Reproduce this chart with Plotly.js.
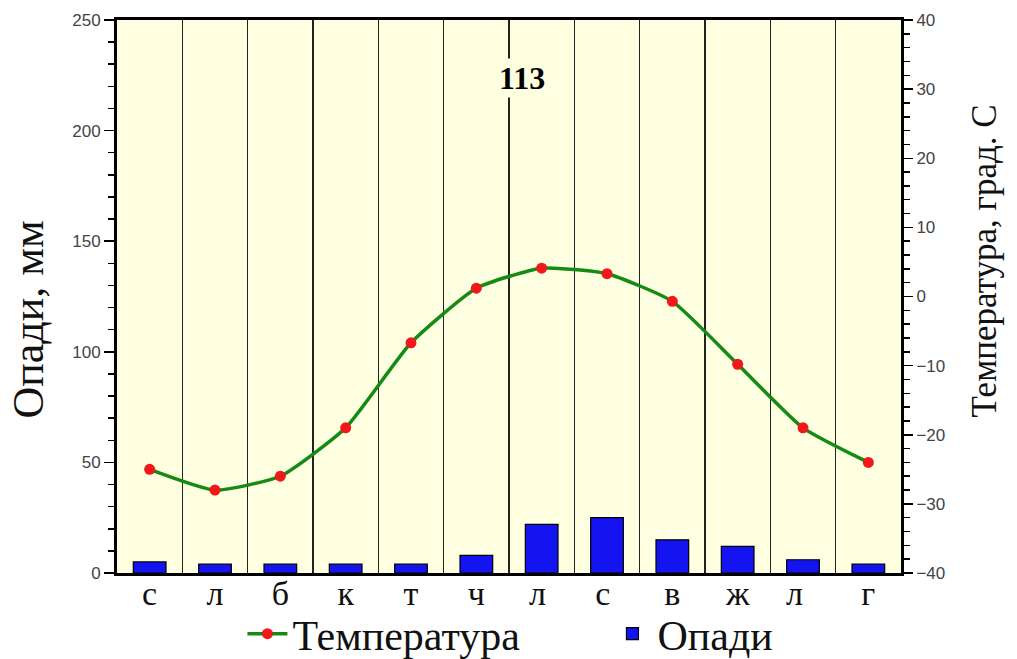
<!DOCTYPE html>
<html>
<head>
<meta charset="utf-8">
<script src="https://cdn.plot.ly/plotly-3.0.1.min.js"></script>
<style>
  html, body { margin: 0; padding: 0; background: #fff; }
  #chart { width: 1017px; height: 659px; }
</style>
</head>
<body>
<div id="chart"></div>
<script>
// month initials (Ukrainian); repeated letters padded so categories stay distinct
var months = ["с", "л", "б", "к", "т", "ч", "л ", "с ", "в", "ж", "л  ", "г"];
// precipitation, mm (sum 113)
var precip = [5, 4, 4, 4, 4, 8, 22, 25, 15, 12, 6, 4];
// mean temperature, deg C
var temp = [-25, -28, -26, -19, -6.7, 1.2, 4.1, 3.3, -0.7, -9.8, -19, -24];
var annualPrecip = "113";

var serif = "Liberation Serif, Times New Roman, serif";
var sans = "Liberation Sans, Arial, sans-serif";

var line = {
  x: months,
  y: temp,
  type: "scatter",
  mode: "lines+markers",
  name: "Температура",
  line: { color: "#158a15", width: 3.5, shape: "spline", smoothing: 0.5 },
  marker: { color: "#f01818", size: 11 },
  yaxis: "y2"
};

var bars = {
  x: months,
  y: precip,
  type: "bar",
  name: "Опади",
  width: 0.5,
  marker: { color: "#1414f0", line: { color: "#000", width: 1.2 } },
  yaxis: "y"
};

var layout = {
  width: 1017,
  height: 659,
  margin: { l: 117, r: 116, t: 20, b: 86, autoexpand: false },
  paper_bgcolor: "#ffffff",
  plot_bgcolor: "#fefee0",
  showlegend: true,
  legend: {
    orientation: "h",
    x: 0.16, xanchor: "left",
    y: -0.11, yanchor: "middle",
    bgcolor: "rgba(0,0,0,0)",
    font: { family: serif, size: 42, color: "#111" },
    itemwidth: 40,
    entrywidth: 310
  },
  xaxis: {
    type: "category",
    range: [-0.5, 11.5],
    tickson: "boundaries",
    showgrid: true,
    gridcolor: "#222",
    gridwidth: 1.3,
    ticks: "",
    showline: true,
    linecolor: "#000",
    linewidth: 3,
    mirror: true,
    ticklabelstandoff: -12,
    tickfont: { family: serif, size: 34, color: "#111" },
    fixedrange: true
  },
  yaxis: {
    range: [0, 250],
    dtick: 50,
    showgrid: false,
    zeroline: false,
    ticks: "outside",
    ticklen: 10,
    tickwidth: 1.5,
    tickcolor: "#000",
    minor: { dtick: 10, ticks: "outside", ticklen: 6, tickcolor: "#000", tickwidth: 1.5 },
    showline: true,
    linecolor: "#000",
    linewidth: 3,
    tickfont: { family: sans, size: 17, color: "#444" }
  },
  yaxis2: {
    overlaying: "y",
    side: "right",
    range: [-40, 40],
    dtick: 10,
    showgrid: false,
    zeroline: false,
    ticks: "outside",
    ticklen: 9,
    tickwidth: 1.5,
    tickcolor: "#000",
    minor: { dtick: 2, ticks: "outside", ticklen: 6, tickcolor: "#000", tickwidth: 1.5 },
    showline: true,
    linecolor: "#000",
    linewidth: 3,
    tickfont: { family: sans, size: 17, color: "#444" }
  },
  annotations: [
    {
      text: "<b>" + annualPrecip + "</b>",
      xref: "paper", yref: "paper",
      x: 0.517, y: 0.895, yanchor: "middle",
      showarrow: false,
      bgcolor: "#fefee0",
      font: { family: serif, size: 32, color: "#000" }
    },
    {
      text: "Опади, мм",
      xref: "paper", yref: "paper",
      x: -0.113, y: 0.459, xanchor: "center", yanchor: "middle",
      textangle: -90,
      showarrow: false,
      font: { family: serif, size: 44, color: "#111" }
    },
    {
      text: "Температура, град. С",
      xref: "paper", yref: "paper",
      x: 1.107, y: 0.565, xanchor: "center", yanchor: "middle",
      textangle: -90,
      showarrow: false,
      font: { family: serif, size: 35, color: "#111" }
    }
  ]
};

Plotly.newPlot("chart", [line, bars], layout, { displayModeBar: false, staticPlot: true });
</script>
</body>
</html>
